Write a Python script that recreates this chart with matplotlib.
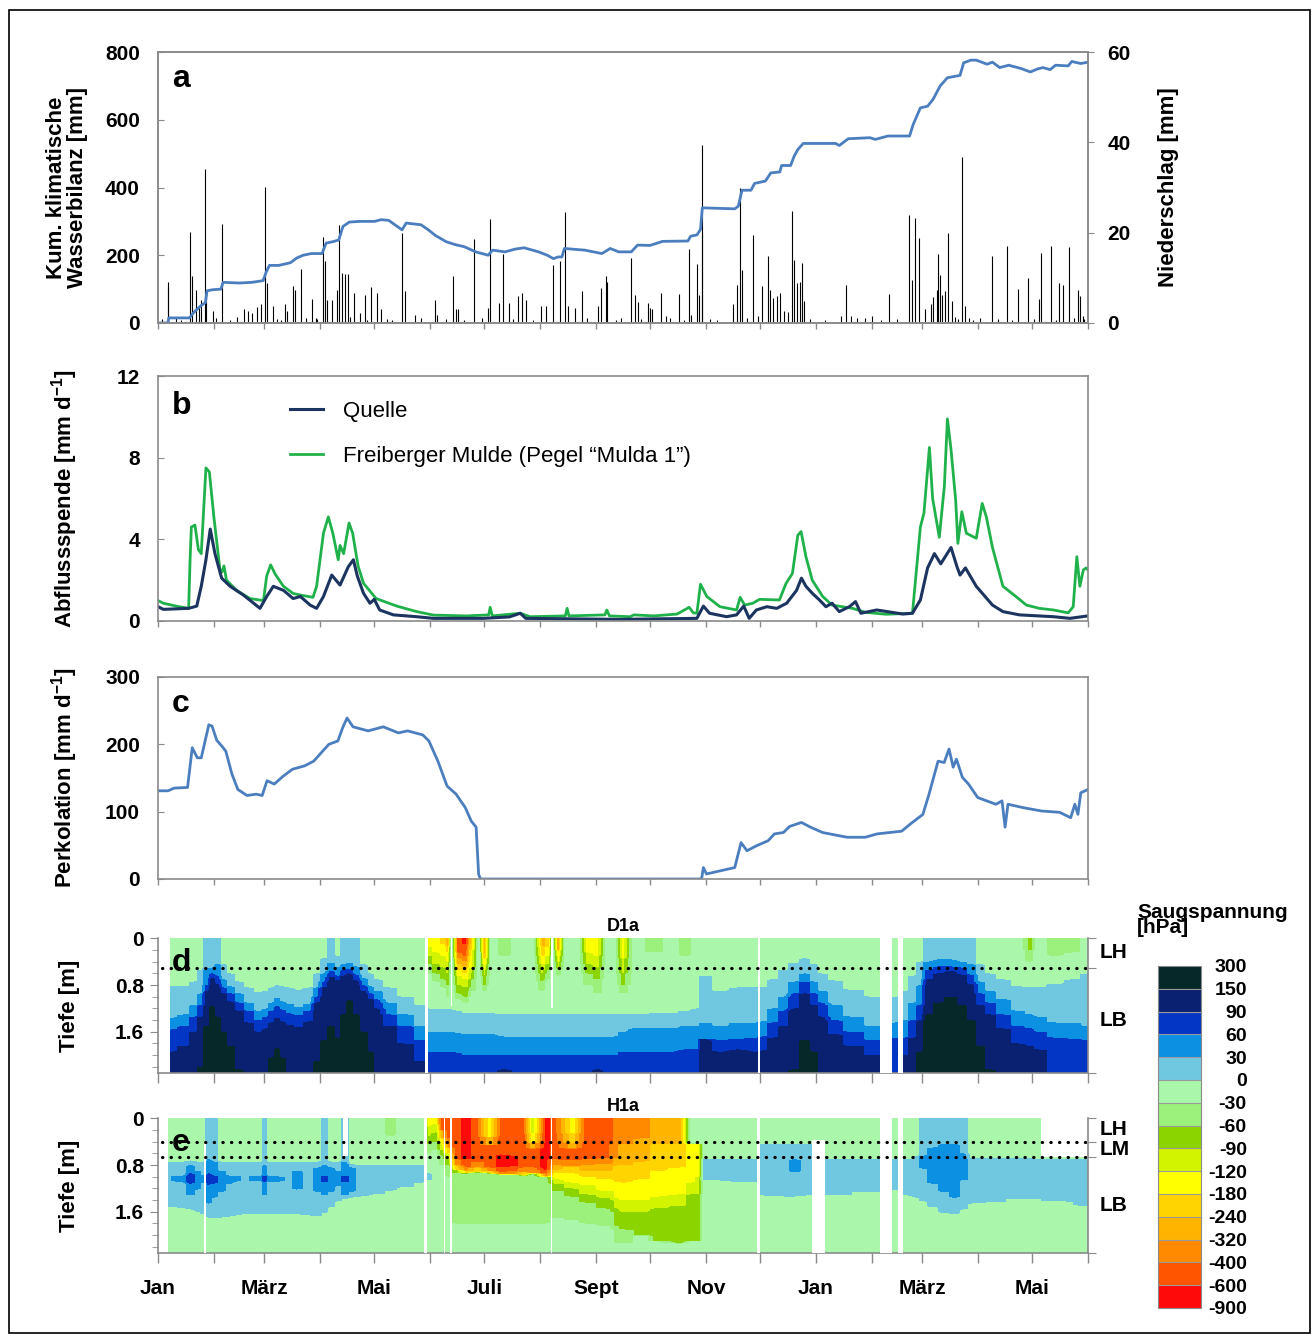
import numpy as np
import matplotlib.pyplot as plt
import matplotlib.transforms as mtransforms
from matplotlib.patches import Rectangle
from matplotlib.lines import Line2D

plt.rcParams['font.family'] = ['Liberation Sans', 'DejaVu Sans']
plt.rcParams['font.weight'] = 'bold'
plt.rcParams['mathtext.fontset'] = 'custom'
plt.rcParams['mathtext.rm'] = 'Liberation Sans:bold'
plt.rcParams['mathtext.it'] = 'Liberation Sans:bold'
plt.rcParams['mathtext.bf'] = 'Liberation Sans:bold'

# Zeitachse: Tage ab 1. Januar (Jan bis Ende Mai des Folgejahres)
monate = np.arange('2010-01', '2011-07', dtype='datetime64[M]')
monat_tag = (monate.astype('datetime64[D]') - np.datetime64('2010-01-01')).astype(int)
monat_namen = ['Jan', '', 'März', '', 'Mai', '', 'Juli', '', 'Sept', '', 'Nov', '',
               'Jan', '', 'März', '', 'Mai', '']

# ---- a) kumulative klimatische Wasserbilanz [mm]
kwb_tag = [0, 5.5, 6, 17.4, 20, 24, 26.3, 27.2, 30, 34.9, 36.1, 45, 52, 58.3, 60, 61.8, 67, 73.5,
           77, 80.5, 85, 91, 93.3, 97, 100.3, 102.6, 106.2, 112, 120.2, 123.7, 128, 135.4, 137.7,
           145.9, 150, 154, 159.9, 164.5, 170, 176.3, 183.2, 185.6, 192.6, 198, 203.1, 211.2, 216,
           219.4, 222, 224.1, 225.5, 236.9, 246.3, 250.9, 255.6, 262.6, 266.1, 273, 280, 294,
           295.5, 299, 301, 302, 320, 322, 324, 329, 331, 337, 340, 345, 346, 351, 353, 355, 358,
           376, 378, 383, 395, 398, 405, 417, 419, 423, 427, 430, 434, 438, 445, 447, 451, 454,
           460, 463, 467, 472, 479, 484, 488, 491, 495, 498, 505, 507, 512, 516]
kwb_mm = [0, 0, 15, 15, 32, 52, 60, 95, 98, 100, 120, 118, 120, 125, 150, 170, 170, 178,
          192, 200, 205, 205, 236, 240, 245, 285, 298, 300, 300, 305, 303, 275, 295,
          290, 275, 258, 240, 232, 225, 210, 200, 215, 210, 218, 222, 210, 200,
          190, 195, 195, 220, 215, 205, 220, 210, 210, 230, 229, 241, 242,
          256, 260, 276, 340, 337, 345, 392, 392, 412, 419, 443, 446, 465, 465, 493, 512, 530,
          530, 524, 544, 547, 542, 552, 552, 586, 635, 640, 660, 700, 724, 731, 768, 776, 776,
          764, 770, 754, 761, 751, 741, 750, 754, 748, 761, 759, 772, 766, 770]

# Niederschlag [mm] (Tagessummen)
regen_tag = [5.3, 5.7, 17.9, 18.6, 20.9, 22.6, 24.0, 25.8, 26.8, 30.5, 35.4, 47.8, 50.1, 52.4,
             54.8, 57.1, 59.4, 60.2, 63.6, 70.2, 71.8, 75.1, 75.8, 79.3, 85.6, 87.5, 91.7, 92.6,
             94.0, 96.3, 99.2, 100.6, 102.0, 103.8, 105.2, 109.0, 112.0, 114.8, 118.3, 121.3,
             123.7, 135.4, 137.2, 142.4, 153.6, 154.7, 163.6, 165.2, 166.4, 175.1, 183.2, 184.4,
             189.1, 191.4, 194.9, 199.6, 201.9, 204.2, 212.4, 215.4, 219.4, 222.9, 226.0, 227.6,
             231.1, 235.3, 244.0, 245.6, 248.7, 249.3, 257.0, 262.6, 264.5, 266.1, 271.9, 273.1,
             274.2, 278.9, 281.9, 288.9, 294.6, 295.5, 298.8, 300.0, 301.6, 302.1, 319.0, 321.1,
             322.9, 324.1, 330.4, 332.7, 335.3, 338.6, 339.8, 341.4, 343.3, 344.9, 347.5, 349.8,
             351.9, 353.1, 354.5, 356.1, 357.3, 358.5, 378.9, 382.0, 384.3, 387.8, 396.0, 405.4,
             416.7, 418.3, 420.2, 422.1, 425.4, 428.9, 430.1, 432.0, 432.9, 433.8, 435.2, 436.7,
             438.3, 440.7, 446.1, 447.7, 462.9, 471.2, 477.0, 482.9, 488.8, 489.9, 495.3, 500.0,
             502.4, 505.7, 510.3, 511.7, 513.4,
             2, 10, 13, 32, 40, 44, 66, 68, 82, 88, 106.5, 116, 127, 130, 146, 160, 170, 180, 197,
             208, 238, 254, 268, 284, 292, 306, 310, 327, 362, 370, 392, 401, 410, 442, 444, 450,
             452, 456, 466, 474, 486, 498, 508, 514]
regen_mm = [9.0, 8.0, 20.1, 10.3, 7.4, 3.7, 5.2, 34.1, 6.7, 2.6, 22.0, 3.1, 2.6, 2.2,
            3.5, 4.1, 30.2, 8.9, 3.7, 4.3, 2.6, 8.3, 7.4, 12.0, 5.3, 1.1, 19.1, 13.7,
            5.2, 5.2, 7.4, 21.7, 11.1, 10.9, 10.9, 6.7, 2.2, 6.3, 8.0, 6.7,
            3.0, 20.0, 7.0, 1.8, 5.0, 1.8, 10.5, 3.0, 3.0, 18.6, 3.3, 23.1,
            4.4, 15.2, 4.4, 5.9, 6.7, 5.2, 3.7, 3.8, 12.8, 13.7, 24.5, 3.7,
            3.3, 7.1, 3.8, 7.7, 10.3, 9.0, 1.1, 14.4, 6.3, 4.6, 4.4, 3.3,
            3.0, 6.7, 1.5, 6.5, 16.3, 1.8, 13.1, 6.1, 39.5, 20.0, 4.1, 8.5,
            29.9, 11.8, 19.4, 1.5, 8.1, 14.8, 7.2, 5.5, 5.9, 6.7, 2.6, 2.4,
            24.8, 14.0, 8.9, 9.0, 13.3, 4.8, 1.5, 8.4, 1.6, 1.1, 1.5, 6.5,
            24.0, 9.6, 23.3, 18.8, 3.1, 4.1, 5.8, 7.4, 15.2, 10.7, 6.3, 7.0,
            20.0, 4.8, 36.8, 3.7, 14.8, 17.0, 7.5, 10.0, 5.3, 15.5, 17.0, 8.9,
            8.4, 16.9, 7.4, 5.9, 1.5,
            0.8, 1.2, 0.6, 1.0, 0.7, 1.4, 0.9, 0.6, 1.1, 0.8, 1.3, 0.7, 0.9, 0.6, 1.2, 0.8, 0.6, 1.0, 0.9,
            0.7, 1.1, 0.6, 0.8, 1.2, 0.7, 0.9, 0.6, 1.0, 0.8, 0.6, 1.1, 0.7, 0.9, 1.3, 0.8, 1.0,
            0.6, 1.2, 0.8, 0.7, 0.9, 0.6, 1.0, 0.8]

# ---- b) Abflussspende [mm/d]
mulde_tag = [0, 3, 10, 17, 17.8, 18.5, 20.5, 22.4, 24, 26.6, 28.5, 31, 34.4, 35.5, 36.6, 38, 43.6,
             51, 58.5, 60.3, 62.5, 65, 69.6, 75, 79, 86, 88, 91.8, 94.5, 97, 100, 101, 103, 106,
             108, 111, 114, 121, 132.5, 143.5, 152.8, 171, 183.5, 184.3, 185.5, 201, 206.5, 226,
             227, 228, 248, 249, 250.5, 262, 264, 275, 288, 294.7, 297, 299, 301, 304.5, 311.8,
             321, 323, 325.5, 330, 333.8, 344.8, 348.5, 352, 355, 356.8, 359.5, 363, 368.8, 374,
             385.3, 392.8, 404, 418.6, 423, 425, 428, 429.8, 433.5, 436.3, 438, 440, 442.6, 443.8,
             446, 448.5, 454, 457.3, 459.6, 463, 468.8, 476, 481.8, 489, 496.8, 505, 507.8, 509.8,
             511.5, 513.4, 515, 516]
mulde_q = [1.0, 0.87, 0.73, 0.62, 3.0, 4.6, 4.7, 3.5, 3.3, 7.5, 7.3, 5.1, 2.5, 2.4, 2.7, 2.0, 1.5,
           1.1, 1.0, 2.2, 2.75, 2.3, 1.7, 1.35, 1.27, 1.16, 1.7, 4.3, 5.1, 4.3, 3.0, 3.7, 3.3, 4.8,
           4.3, 2.7, 1.85, 1.1, 0.73, 0.46, 0.29, 0.25, 0.3, 0.67, 0.25, 0.38, 0.21, 0.25,
           0.62, 0.25, 0.3, 0.54, 0.25, 0.21, 0.3, 0.25, 0.34, 0.67, 0.4, 0.38, 1.8, 1.2, 0.7,
           0.54, 1.16, 0.78, 0.87, 1.06, 1.03, 1.85, 2.33, 4.2, 4.38, 3.15, 2.0, 1.2, 0.78,
           0.62, 0.42, 0.33, 0.38, 4.6, 5.3, 8.5, 6.0, 4.1, 6.6, 9.9, 8.4, 5.9, 3.8,
           5.35, 4.3, 4.05, 5.76, 5.1, 3.6, 1.7, 1.2, 0.78, 0.62, 0.54, 0.4, 0.7, 3.15,
           1.7, 2.5, 2.6, 2.5]
quelle_tag = [0, 3, 17, 21.5, 24, 26.6, 29, 31.6, 35.3, 40, 47.4, 56.6, 60.3, 64, 69.6, 75, 79,
              84.4, 88, 91.8, 96.4, 101, 105.6, 108.4, 110.6, 114, 117.6, 120, 123, 130.6, 143.5,
              152.8, 180.5, 195, 201, 204, 256, 299, 302.6, 306, 315.5, 321, 325, 328, 332,
              337.8, 343.3, 348.8, 354.3, 357, 359.5, 363, 367, 370.6, 374, 378, 383.6, 387, 390,
              398.8, 413.3, 418.6, 423, 427, 430.8, 434.3, 440, 443.3, 445, 448, 454, 463, 468.8,
              478, 496.8, 506, 516]
quelle_q = [0.7, 0.57, 0.62, 0.73, 1.7, 3.0, 4.5, 3.3, 2.1, 1.7, 1.27, 0.62, 1.2, 1.7, 1.5, 1.1, 1.2,
            0.78, 0.62, 1.2, 2.25, 1.76, 2.66, 3.0, 2.2, 1.36, 0.87, 1.06, 0.54, 0.3, 0.21,
            0.13, 0.13, 0.2, 0.38, 0.13, 0.08, 0.13, 0.73, 0.38, 0.21, 0.3, 0.73, 0.13, 0.54,
            0.7, 0.62, 0.87, 1.5, 2.1, 1.7, 1.36, 1.03, 0.7, 0.87, 0.46, 0.7, 0.95, 0.38,
            0.54, 0.34, 0.38, 1.03, 2.6, 3.3, 2.8, 3.6, 2.66, 2.25, 2.6, 1.7, 0.78, 0.46,
            0.3, 0.21, 0.13, 0.25]

# ---- c) Perkolation [mm/d]
perk_tag = [0, 5.6, 9, 16.4, 19, 21.8, 24, 28.2, 30, 32.6, 35.2, 37.6, 41, 44.3, 49.4, 54.4, 57.8,
            60.5, 64.5, 69.6, 74.6, 81.3, 86.4, 91.4, 94.8, 99.8, 102.5, 104.9, 108.2, 116.6, 125,
            133.4, 138.5, 146.9, 150.3, 155.3, 160.4, 165.4, 170.5, 173.8, 176.5, 177.9, 178.9,
            301.6, 302.6, 304.3, 311.7, 320, 323.5, 326.8, 331.8, 338.6, 342, 347, 350.4, 357, 362,
            368.8, 382.3, 392.4, 399, 412.6, 417.6, 424.4, 427.8, 432.8, 436.2, 438.9, 441.2, 443,
            446.3, 449.7, 454.8, 459.8, 464.9, 468.3, 470, 471.6, 480, 490.2, 500.3, 506.4, 508.7,
            510.4, 512, 516]
perk_mm = [131, 131, 135, 136, 195, 180, 180, 229, 227, 206, 198, 190, 156, 133, 124, 126, 124,
           146, 141, 153, 163, 168, 175, 190, 200, 205, 225, 239, 226, 220, 226,
           217, 220, 214, 205, 175, 138, 126, 106, 86, 77, 7, 0,
           0, 17, 7.5, 12, 17, 54, 42, 49, 57, 67, 69, 78, 84, 77,
           69, 62, 62, 67, 71, 82, 96, 126, 175, 173, 193, 166, 178,
           151, 141, 121, 116, 111, 116, 77, 111, 106, 101, 99, 91, 111,
           96, 128, 133]

# ---- d/e) Saugspannung, Klassen je Tiefenabschnitt ("Klasse bis Tiefe [m]")
stufen = [-900, -600, -400, -320, -240, -180, -120, -90, -60, -30, 0, 30, 60, 90, 150, 300]
klassen = 'RroOyYlhgGCMBNK'
farben = ['#ff0a0a', '#ff5500', '#ff8a00', '#ffb400', '#ffd400', '#ffff00', '#d2f400', '#8cd400',
          '#9cf07c', '#aaf6aa', '#70c8e0', '#0c90e2', '#0436c6', '#0a2070', '#062828']

d_tage = [7, 15, 20, 24, 27, 30, 33, 36, 40, 45, 50, 56, 60, 63, 66, 69, 72, 78, 84, 88, 92, 96,
          100, 103, 106, 110, 114, 118, 121, 128, 137, 146, 148, 150, 154, 158, 161, 163, 166, 171,
          175, 178, 181, 185, 192, 200, 208, 213, 217, 219, 222, 226, 233, 238, 244, 249, 253, 258,
          264, 276, 285, 293, 299, 302, 312, 322, 332, 335, 341, 347, 353, 359, 364, 368, 375,
          385, 398, 409, 414, 419, 423, 427, 433, 440, 446, 451, 456, 461, 468, 478, 484, 488,
          498, 508, 516]
d_profil = [
    "G.83 C1.37 M1.57 B1.94 N2.3", "G.83 C1.3 M1.5 B1.85 N2.3", "G.75 C1.15 M1.35 B1.6 N2.3",
    "G.55 C.95 M1.15 B1.35 N2.2 K2.3", "C.5 M.8 B.9 N1.5 K2.3", "C.5 M.6 B.68 N1.17 K2.3",
    "C.45 M.65 B.78 N1.35 K2.3", "G.45 C.7 M.85 B.95 N1.6 K2.3", "G.6 C.82 M.95 B1.08 N1.85 K2.3",
    "G.75 C.95 M1.1 B1.25 N2.25 K2.3", "G.85 C1.1 M1.25 B1.45 N2.3", "G.92 C1.25 M1.4 B1.6 N2.3",
    "G.9 C1.2 M1.35 B1.55 N2.3", "G.85 C1.1 M1.25 B1.45 N2.05 K2.3",
    "G.8 C1.03 M1.17 B1.37 N1.89 K2.3", "G.82 C1.08 M1.22 B1.42 N2.05 K2.3",
    "G.85 C1.12 M1.28 B1.48 N2.3", "G.88 C1.18 M1.32 B1.52 N2.3", "G.85 C1.12 M1.25 B1.42 N2.3",
    "G.6 C.85 M1.0 B1.1 N2.1 K2.3", "G.35 C.6 M.75 B.85 N1.75 K2.3", "C.43 M.58 B.66 N1.5 K2.3",
    "G.3 C.5 M.65 B.72 N1.7 K2.3", "C.45 M.55 B.65 N1.3 K2.3", "C.43 M.52 B.6 N1.06 K2.3",
    "C.48 M.62 B.72 N1.3 K2.3", "G.45 C.68 M.8 B.9 N1.6 K2.3", "G.6 C.82 M.95 B1.05 N1.95 K2.3",
    "G.7 C.9 M1.05 B1.2 N2.3", "G.85 C1.1 M1.3 B1.5 N2.3", "G1.0 C1.3 M1.5 B1.8 N2.3",
    "G1.15 C1.5 M1.75 B2.1 N2.3", "G1.15 C1.5 M1.75 B2.1 N2.3",
    "Y.15 l.3 h.45 g.6 G1.2 C1.6 M1.95 B2.3", "Y.25 l.45 h.6 g.75 G1.2 C1.6 M1.95 B2.3",
    "y.1 Y.3 l.5 h.7 g.85 G1.2 C1.6 M1.95 B2.3", "O.15 y.25 Y.4 l.6 h.8 g1.0 G1.2 C1.6 M1.95 B2.3",
    "G1.22 C1.6 M1.95 B2.3", "r.25 o.35 O.45 y.55 Y.65 l.8 h.95 g1.05 G1.25 C1.62 M1.97 B2.3",
    "R.1 r.3 o.4 O.5 y.6 Y.7 l.85 h1.0 g1.1 G1.28 C1.65 M2.0 B2.3",
    "Y.2 l.5 h.7 g.9 G1.28 C1.65 M2.0 B2.3", "G1.28 C1.65 M2.0 B2.3",
    "o.25 O.35 y.45 Y.55 l.65 h.8 g.9 G1.28 C1.65 M2.0 B2.3", "G1.28 C1.65 M2.0 B2.3",
    "g.3 G1.3 C1.68 M2.0 B2.25 N2.3", "G1.3 C1.68 M2.0 B2.3", "G1.3 C1.68 M2.0 B2.3",
    "O.15 y.3 Y.45 l.6 h.75 g.9 G1.3 C1.68 M2.0 B2.3", "y.15 Y.3 l.45 h.55 g.7 G1.3 C1.68 M2.0 B2.3",
    "G1.3 C1.68 M2.0 B2.3", "o.2 y.3 Y.4 l.5 h.55 g.65 G1.3 C1.68 M2.0 B2.3",
    "G1.3 C1.68 M2.0 B2.3", "G1.3 C1.68 M2.0 B2.3", "Y.25 l.45 h.6 g.8 G1.3 C1.68 M2.0 B2.3",
    "Y.3 l.5 h.7 g.95 G1.3 C1.68 M2.0 B2.25 N2.3", "G1.3 C1.68 M2.0 B2.3", "G1.3 C1.68 M2.0 B2.3",
    "Y.35 l.6 h.8 g.95 G1.3 C1.6 M1.95 B2.3", "G1.3 C1.55 M1.95 B2.3",
    "g.25 G1.28 C1.55 M1.95 B2.3", "G1.28 C1.55 M1.95 B2.3", "g.3 G1.25 C1.5 M1.9 B2.3",
    "G1.2 C1.5 M1.9 B2.3", "G.65 C1.45 M1.72 N2.3", "G.9 C1.5 M1.75 B1.95 N2.3",
    "G.85 C1.45 M1.72 B1.9 N2.3", "G.85 C1.45 M1.7 B1.95 N2.3", "G.85 C1.42 M1.68 B1.92 N2.3",
    "G.7 C1.2 M1.45 B1.7 N2.3", "G.55 C1.0 M1.25 B1.5 N2.3", "G.42 C.75 M.95 B1.2 N2.25 K2.3",
    "G.35 C.6 M.75 B.95 N1.75 K2.3", "G.45 C.75 M.95 B1.15 N1.95 K2.3", "G.6 C.9 M1.1 B1.35 N2.3",
    "G.72 C1.15 M1.4 B1.65 N2.3", "G.88 C1.35 M1.6 B1.85 N2.3", "G1.0 C1.5 M1.75 B2.0 N2.3",
    "G1.0 C1.45 M1.7 B2.3", "G.9 C1.4 M1.7 B2.0 N2.3", "G.65 C1.1 M1.4 B1.7 N2.3",
    "G.4 C.8 M1.15 B1.4 N1.95 K2.3", "C.4 M.55 B.7 N1.3 K2.3", "C.37 M.48 B.6 N1.1 K2.3",
    "C.37 M.48 B.58 N1.0 K2.3", "C.4 M.5 B.62 N1.15 K2.3", "C.45 M.62 B.78 N1.4 K2.3",
    "G.45 C.75 M.95 B1.15 N1.85 K2.3", "G.6 C.9 M1.1 B1.3 N2.25 K2.3", "G.7 C1.05 M1.3 B1.55 N2.3",
    "G.82 C1.25 M1.5 B1.8 N2.3", "h.2 g.4 G.85 C1.3 M1.55 B1.85 N2.3", "G.85 C1.35 M1.6 B1.9 N2.3",
    "g.3 G.78 C1.45 M1.7 B2.3", "g.25 G.7 C1.45 M1.72 B2.3", "G.6 C1.5 M1.75 B2.3",
]

e_tage = [6, 9, 14, 18, 22, 25, 28, 31, 35, 40, 44, 48, 53, 57, 59, 61, 64, 68, 72, 77, 83, 89, 92,
          96, 100, 104, 107, 112, 122, 129, 136, 147, 150, 154, 157, 161, 165, 171, 177, 184, 190,
          197, 203, 208, 215, 220, 230, 237, 248, 258, 270, 276, 290, 296, 300, 303, 333, 335,
          348, 353, 360, 372, 398, 409, 416, 421, 424, 430, 436, 442, 447, 451, 460, 480, 500, 516]
e_profil = [
    "G.75 C1.5 G2.3", "G.75 C.98 M1.06 C1.5 G2.3", "G.75 C.98 M1.08 C1.52 G2.3",
    "G.72 C.8 M.95 B1.1 M1.3 C1.55 G2.3", "G.75 C.9 M1.2 C1.58 G2.3", "G.75 C.98 M1.08 C1.62 G2.3",
    "C.7 M.95 B1.14 M1.45 C1.69 G2.3", "C.75 M.98 B1.1 M1.35 C1.69 G2.3", "G.75 C.9 M1.25 C1.69 G2.3",
    "G.75 C.98 M1.1 C1.67 G2.3", "G.75 C.98 M1.06 C1.65 G2.3", "G.75 C1.63 G2.3",
    "G.75 C.98 M1.06 C1.63 G2.3", "G.75 C.98 M1.06 C1.63 G2.3", "C.8 M.98 B1.08 M1.3 C1.63 G2.3",
    "G.75 C.98 M1.06 C1.63 G2.3", "G.75 C.98 M1.08 C1.63 G2.3", "G.75 C1.0 M1.06 C1.63 G2.3",
    "G.75 C1.63 G2.3", "G.75 C.9 M1.2 C1.63 G2.3", "G.75 C1.65 G2.3", "G.75 C.85 M1.25 C1.66 G2.3",
    "C.8 M.98 B1.08 M1.3 C1.6 G2.3", "G.75 C.85 M1.25 C1.5 G2.3", "G.75 C.9 M1.15 C1.4 G2.3",
    "C.75 M.98 B1.08 M1.3 C1.38 G2.3", "G.78 C.85 M1.25 C1.35 G2.3", "G.8 C1.33 G2.3",
    "G.8 C1.28 G2.3", "g.3 G.8 C1.22 G2.3", "G.8 C1.17 G2.3", "G.8 C1.08 G2.3",
    "Y.15 l.3 h.45 g.6 G.95 C1.05 G2.3", "Y.1 l.25 h.4 g.55 G2.3", "r.2 O.35 Y.45 l.55 h.65 g.8 G2.3",
    "r.35 o.5 y.6 l.7 h.8 g1.0 G2.3", "r.7 o.8 y.88 h.95 g1.8 G2.3", "R.7 r.85 o.9 y.95 g1.8 G2.3",
    "r.75 o.85 y.92 g1.8 G2.3", "Y.3 O.45 r.85 o.9 y.95 g1.8 G2.3", "r.6 R.85 r.92 o.97 g1.8 G2.3",
    "r.62 R.82 r.9 o.97 g1.8 G2.3", "r.85 o.92 y.98 g1.8 G2.3", "l.25 Y.4 O.5 r.85 o.95 g1.8 G2.3",
    "R.88 r.95 o1.0 g1.8 G2.3", "r.7 o.8 O.88 y.95 Y1.05 l1.12 h1.25 g1.7 G2.3",
    "Y.25 y.4 O.5 r.72 o.82 y.95 Y1.1 l1.2 h1.35 g1.75 G2.3",
    "r.7 o.8 O.9 y1.0 Y1.15 l1.3 h1.45 g1.8 G2.3", "r.68 o.78 O.9 y1.05 Y1.25 l1.38 h1.55 g1.85 G2.3",
    "o.45 O.8 y1.1 Y1.4 l1.6 h1.9 g2.15 G2.3", "o.35 O.75 y1.05 Y1.4 l1.6 h2.0 G2.3",
    "O.45 y.9 Y1.35 l1.55 h2.1 G2.3", "O.45 y.85 Y1.3 l1.5 h2.15 G2.3", "G.43 Y1.1 l1.3 h2.1 G2.3",
    "G.43 Y1.0 l1.3 h2.1 G2.3", "G.7 C1.05 G2.3", "G.7 C1.08 G2.3", "G.45 C1.3 G2.3",
    "G.45 C1.32 G2.3", "G.45 C.7 M.9 C1.32 G2.3", "G.45 C1.3 G2.3", "G.7 C1.3 G2.3",
    "G.7 C1.25 G2.3", "G.7 C1.2 G2.3", "G.7 C1.3 G2.3", "G.65 C1.35 G2.3", "C.65 M.85 C1.4 G2.3",
    "C.5 M1.1 C1.5 G2.3", "C.45 M1.25 C1.6 G2.3", "C.45 M1.35 C1.62 G2.3", "C.6 M1.05 C1.55 G2.3",
    "G.68 C1.45 G2.3", "G.68 C1.42 G2.3", "G.68 C1.38 G2.3", "G.7 C1.4 G2.3", "G.7 C1.48 G2.3",
]
assert len(d_tage) == len(d_profil) and len(e_tage) == len(e_profil)

# Messluecken: (von Tag, bis Tag, Tiefe oben, Tiefe unten)
d_luecken = [(148.3, 149.6, 0, 2.3), (162.4, 163.2, 0, 1.15), (218.1, 218.9, 0, 1.2),
             (332.8, 333.9, 0, 2.3), (400.7, 407.1, 0, 2.3), (410.8, 413.6, 0, 2.3)]
e_luecken = [(25.6, 26.9, 0.43, 2.3), (102.6, 105.5, 0, 0.65), (147.4, 149.1, 0, 2.3),
             (158.5, 159.3, 0, 2.3), (162.2, 163.3, 0, 2.3), (218.1, 218.8, 0, 2.3),
             (332.6, 334.1, 0, 2.3), (362.7, 370.1, 0.37, 2.3), (400.7, 407.1, 0, 2.3),
             (410.8, 413.6, 0, 2.3), (489.8, 516, 0, 0.66)]
d_horizonte = [0, 0.5, 2.3]
e_horizonte = [0, 0.4, 0.67, 2.3]

tiefe_gitter = np.linspace(0, 2.3, 116)


def klassen_gitter(profile):
    gitter = np.zeros((len(tiefe_gitter), len(profile)))
    for j, p in enumerate(profile):
        segs = [(s[0], float(s[1:])) for s in p.split()]
        for i, z in enumerate(tiefe_gitter):
            k = next((c for c, unten in segs if z < unten), segs[-1][0])
            gitter[i, j] = klassen.index(k)
    return gitter


grau = '#8a8a8a'
blau = '#4a7ebf'
W = 930 / 1312
L = 158 / 1312

fig = plt.figure(figsize=(13.12, 13.37), dpi=100)


def rahmen(ax):
    for s in ax.spines.values():
        s.set_color(grau)
        s.set_linewidth(1.2)


def x_achse(ax, labels=False, laenge=4):
    ax.set_xlim(0, 516)
    ax.set_xticks(monat_tag)
    ax.set_xticklabels(monat_namen if labels else [])
    ax.tick_params(axis='x', direction='out', length=laenge, width=1, color=grau, pad=12,
                   labelsize=15)


def buchstabe(ax, t, y):
    ax.text(0.015, y, t, transform=ax.transAxes, fontsize=23, fontweight='bold', va='top',
            ha='left', zorder=10)


# ---- a
ax_a = fig.add_axes([L, 1 - 323 / 1337, W, 271 / 1337])
ax_a2 = ax_a.twinx()
ax_a.set_zorder(ax_a2.get_zorder() + 1)
ax_a.patch.set_visible(False)
ax_a2.vlines(regen_tag, 0, regen_mm, color='black', lw=0.8)
ax_a.plot(kwb_tag, kwb_mm, color=blau, lw=2.0)
ax_a.set_ylim(0, 800)
ax_a2.set_ylim(0, 60)
ax_a.set_yticks([0, 200, 400, 600, 800])
ax_a2.set_yticks([0, 20, 40, 60])
x_achse(ax_a)
ax_a.tick_params(axis='y', direction='in', length=4, color=grau, labelsize=15, pad=13)
ax_a2.tick_params(axis='y', direction='out', length=4, color=grau, labelsize=15, pad=10)
rahmen(ax_a)
rahmen(ax_a2)
ax_a.set_ylabel('Kum. klimatische\nWasserbilanz [mm]', fontsize=16, fontweight='bold',
                linespacing=1.0)
ax_a.yaxis.set_label_coords(-0.075, 0.5)
ax_a2.set_ylabel('Niederschlag [mm]', fontsize=16, fontweight='bold')
ax_a2.yaxis.set_label_coords(1.075, 0.5)
buchstabe(ax_a, 'a', 0.955)

# ---- b
ax_b = fig.add_axes([L, 1 - 621 / 1337, W, 245 / 1337])
ax_b.plot(mulde_tag, mulde_q, color='#20b24a', lw=2.0)
ax_b.plot(quelle_tag, quelle_q, color='#1b3460', lw=2.2)
ax_b.set_ylim(0, 12)
ax_b.set_yticks([0, 4, 8, 12])
x_achse(ax_b)
ax_b.tick_params(axis='y', direction='in', length=4, color=grau, labelsize=15, pad=13)
rahmen(ax_b)
ax_b.set_ylabel('Abflussspende [mm d$^{-1}$]', fontsize=16, fontweight='bold')
ax_b.yaxis.set_label_coords(-0.084, 0.5)
buchstabe(ax_b, 'b', 0.94)
griffe = [Line2D([], [], color='#1b3460', lw=2.2), Line2D([], [], color='#20b24a', lw=2.0)]
ax_b.legend(griffe, ['Quelle', 'Freiberger Mulde (Pegel \u201cMulda 1\u201d)'],
            loc='upper left', bbox_to_anchor=(0.142, 0.9), frameon=False,
            prop={'weight': 'normal', 'size': 16}, handlelength=1.5, handletextpad=0.9,
            labelspacing=1.1, borderpad=0, borderaxespad=0)

# ---- c
ax_c = fig.add_axes([L, 1 - 879 / 1337, W, 202 / 1337])
ax_c.plot(perk_tag, perk_mm, color=blau, lw=2.0)
ax_c.set_ylim(0, 300)
ax_c.set_yticks([0, 100, 200, 300])
x_achse(ax_c)
ax_c.tick_params(axis='y', direction='in', length=4, color=grau, labelsize=15, pad=13)
rahmen(ax_c)
ax_c.set_ylabel('Perkolation [mm d$^{-1}$]', fontsize=16, fontweight='bold')
ax_c.yaxis.set_label_coords(-0.084, 0.5)
buchstabe(ax_c, 'c', 0.94)


# ---- d / e
def tiefenplot(ax, tage, profile, luecken, horizonte, namen, titel, brief, labels):
    gitter = klassen_gitter(profile)
    cs = ax.contourf(tage, tiefe_gitter, gitter, levels=np.arange(-0.5, 15, 1), colors=farben)
    for x0, x1, z0, z1 in luecken:
        ax.add_patch(Rectangle((x0, z0), x1 - x0, z1 - z0, color='white', lw=0, zorder=3))
    for z in horizonte[1:-1]:
        ax.axhline(z, xmin=2 / 516, xmax=1, color='black', lw=2.3,
                   linestyle=(0, (0.1, 2.6)), dash_capstyle='round', zorder=5)
    ax.set_ylim(2.3, 0)
    ax.set_yticks([0, 0.8, 1.6])
    ax.set_yticklabels(['0', '0.8', '1.6'])
    ax.set_yticks(np.arange(0, 2.3, 0.2), minor=True)
    ax.tick_params(axis='y', which='major', direction='out', length=6, color=grau,
                   labelsize=15, pad=4)
    ax.tick_params(axis='y', which='minor', direction='out', length=4, color=grau)
    x_achse(ax, labels, laenge=7)
    for s in ['top', 'right']:
        ax.spines[s].set_visible(False)
    for s in ['left', 'bottom']:
        ax.spines[s].set_color(grau)
        ax.spines[s].set_linewidth(1.2)
    ax_r = ax.twinx()
    ax_r.set_ylim(2.3, 0)
    ax_r.set_yticks(horizonte)
    ax_r.set_yticklabels([])
    ax_r.tick_params(axis='y', direction='out', length=6, color=grau)
    for s in ['top', 'left', 'bottom']:
        ax_r.spines[s].set_visible(False)
    ax_r.spines['right'].set_color(grau)
    ax_r.spines['right'].set_linewidth(1.2)
    trans = mtransforms.blended_transform_factory(ax.transAxes, ax.transData)
    for i, n in enumerate(namen):
        ax.text(1.013, (horizonte[i] + horizonte[i + 1]) / 2, n, transform=trans, fontsize=15,
                fontweight='bold', va='center', ha='left')
    ax.set_title(titel, fontsize=13, fontweight='bold', pad=5)
    ax.set_ylabel('Tiefe [m]', fontsize=16, fontweight='bold')
    ax.yaxis.set_label_coords(-0.084, 0.5)
    buchstabe(ax, brief, 0.93)
    return cs


ax_d = fig.add_axes([L, 1 - 1072.7 / 1337, W, 134.4 / 1337])
cs = tiefenplot(ax_d, d_tage, d_profil, d_luecken, d_horizonte, ['LH', 'LB'], 'D1a', 'd', False)
ax_e = fig.add_axes([L, 1 - 1252.7 / 1337, W, 134.4 / 1337])
tiefenplot(ax_e, e_tage, e_profil, e_luecken, e_horizonte, ['LH', 'LM', 'LB'], 'H1a', 'e', True)

# Farbskala
cax = fig.add_axes([1158 / 1312, 1 - 1308 / 1337, 43 / 1312, 342 / 1337])
cb = fig.colorbar(cs, cax=cax, ticks=np.arange(-0.5, 15, 1), drawedges=True)
cb.set_ticklabels([str(s) for s in stufen])
cb.outline.set_edgecolor(grau)
cb.dividers.set_color('#9a9a9a')
cb.dividers.set_linewidth(0.8)
cax.tick_params(length=0, pad=33, labelsize=14)
for t in cax.get_yticklabels():
    t.set_horizontalalignment('right')
fig.text(1137 / 1312, 1 - 903 / 1337, 'Saugspannung\n[hPa]', fontsize=15, fontweight='bold',
         va='top', ha='left', linespacing=0.75)

# Rahmen um die ganze Abbildung
fig.add_artist(Rectangle((8.5 / 1312, 4 / 1337), 1301.5 / 1312, 1323 / 1337,
                         transform=fig.transFigure, fill=False, ec='black', lw=1.2))

fig.savefig('out.png', dpi=100)
